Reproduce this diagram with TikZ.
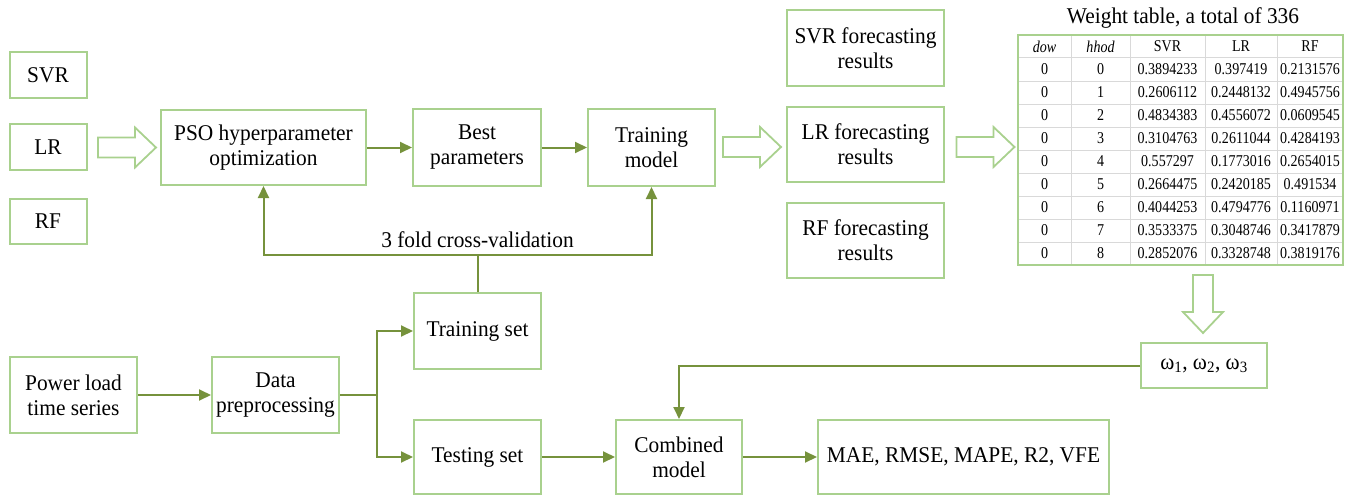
\documentclass[tikz,border=0pt]{standalone}
\usepackage{fontspec}
\setmainfont[FakeStretch=0.95]{Liberation Serif}
\newfontfamily\tablefont[FakeStretch=0.85]{Liberation Serif}
\usetikzlibrary{arrows.meta}
\definecolor{boxgreen}{RGB}{169,209,142}
\definecolor{linegreen}{RGB}{118,146,60}
\definecolor{gridgray}{RGB}{217,217,217}
\tikzset{
  box/.style={draw=boxgreen, line width=2pt, align=center, inner sep=2pt,
    font=\fontsize{22.5}{25}\selectfont},
  flow/.style={draw=linegreen, line width=2pt, -{Triangle[length=12pt,width=11pt]}},
  hollowarrow/.pic={
    \draw[boxgreen, line width=1.8pt, fill=white]
      (-29,-10) -- (8,-10) -- (8,-20) -- (29,0) -- (8,20) -- (8,10) -- (-29,10) -- cycle;},
  cell/.style={font=\tablefont\fontsize{16.5}{18}\selectfont, inner sep=0pt}
}
\begin{document}
\begin{tikzpicture}[x=1pt,y=-1pt]
    \useasboundingbox (0,0) rectangle (1354,495);

    % models
    \node[box, minimum width=77pt, minimum height=45pt] (svr) at (48,75) {SVR};
    \node[box, minimum width=77pt, minimum height=46pt] (lr) at (48,147) {LR};
    \node[box, minimum width=77pt, minimum height=45pt] (rf) at (48,221) {RF};

    % training chain
    \node[box, minimum width=205pt, minimum height=75pt] (pso) at (263.5,147.5) {PSO hyperparameter\\optimization};
    \node[box, minimum width=128pt, minimum height=77pt] (best) at (477,147.5) {Best\\parameters};
    \node[box, minimum width=127pt, minimum height=77pt] (train) at (651.5,147.5) {Training\\model};

    % forecasting results
    \node[box, minimum width=157pt, minimum height=76pt] (svrres) at (865.5,48) {SVR forecasting\\results};
    \node[box, minimum width=157pt, minimum height=75pt] (lrres) at (865.5,144.5) {LR forecasting\\results};
    \node[box, minimum width=157pt, minimum height=75pt] (rfres) at (865.5,240.5) {RF forecasting\\results};

    % data chain
    \node[box, minimum width=127pt, minimum height=76pt] (power) at (73.5,395) {Power load\\time series};
    \node[box, minimum width=127pt, minimum height=76pt] (prep) at (275.5,395) {Data\\preprocessing};
    \node[box, minimum width=127pt, minimum height=76pt] (trset) at (477.5,331) {Training set};
    \node[box, minimum width=127pt, minimum height=74pt] (teset) at (477.5,457) {Testing set};
    \node[box, minimum width=126pt, minimum height=74pt] (comb) at (679,457) {Combined\\model};
    \node[box, minimum width=291pt, minimum height=74pt] (metrics) at (963.5,457) {MAE, RMSE, MAPE, R2, VFE};
    \node[box, minimum width=126pt, minimum height=45pt] (omega) at (1204,365.5) {ω\textsubscript{1}, ω\textsubscript{2}, ω\textsubscript{3}};

    % weight table
    \node[font=\fontsize{22.5}{25}\selectfont] (title) at (1183,18) {Weight table, a total of 336};
    \foreach \y in {58,81,...,242} \draw[gridgray, line width=1pt] (1018,\y) -- (1343,\y);
    \foreach \x in {1071,1130,1205,1277} \draw[gridgray, line width=1pt] (\x,35) -- (\x,265);
    \node[draw=boxgreen, line width=2pt, minimum width=325pt, minimum height=230pt, inner sep=0pt] (weights) at (1180.5,150) {};
    \node[cell] at (1044.5,46.5) {\itshape dow};
    \node[cell] at (1100.5,46.5) {\itshape hhod};
    \node[cell] at (1167.5,46.5) {SVR};
    \node[cell] at (1241,46.5) {LR};
    \node[cell] at (1310,46.5) {RF};
    \foreach \h/\s/\l/\r [count=\i] in {0/0.3894233/0.397419/0.2131576,
        1/0.2606112/0.2448132/0.4945756, 2/0.4834383/0.4556072/0.0609545,
        3/0.3104763/0.2611044/0.4284193, 4/0.557297/0.1773016/0.2654015,
        5/0.2664475/0.2420185/0.491534, 6/0.4044253/0.4794776/0.1160971,
        7/0.3533375/0.3048746/0.3417879, 8/0.2852076/0.3328748/0.3819176} {
      \node[cell] at (1044.5,46.5+23*\i) {0};
      \node[cell] at (1100.5,46.5+23*\i) {\h};
      \node[cell] at (1167.5,46.5+23*\i) {\s};
      \node[cell] at (1241,46.5+23*\i) {\l};
      \node[cell] at (1310,46.5+23*\i) {\r};
    }

    % hollow arrows
    \pic at (127,147.5) {hollowarrow};
    \pic at (752,147) {hollowarrow};
    \pic at (985.5,147) {hollowarrow};
    \pic[rotate=-90] at (1203,304) {hollowarrow};

    % connectors
    \draw[flow] (pso) -- (best);
    \draw[flow] (best) -- (train);
    \draw[flow] (power) -- (prep);
    \coordinate (fork) at (377,395);
    \draw[draw=linegreen, line width=2pt] (prep.east) -- (fork);
    \draw[flow] (fork) |- (trset.west);
    \draw[flow] (fork) |- (teset.west);
    \coordinate (cv) at (477.5,255);
    \draw[draw=linegreen, line width=2pt] (trset.north) -- (cv) node[above=3pt, font=\fontsize{22.5}{25}\selectfont] {3 fold cross-validation};
    \draw[flow] (cv) -| (pso.south);
    \draw[flow] (cv) -| (train.south);
    \draw[flow] (omega.west) -| (comb.north);
    \draw[flow] (teset) -- (comb);
    \draw[flow] (comb) -- (metrics);
\end{tikzpicture}
\end{document}
